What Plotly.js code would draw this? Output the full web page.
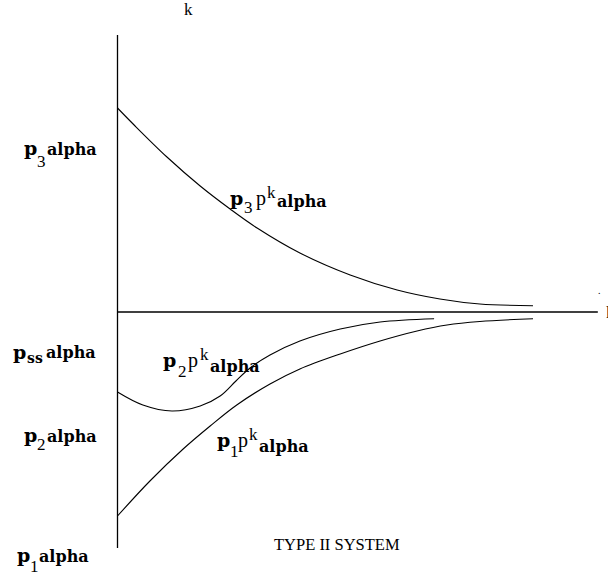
<!DOCTYPE html>
<html>
<head>
<meta charset="utf-8">
<script src="https://cdn.plot.ly/plotly-3.0.1.min.js"></script>
<style>html,body{margin:0;padding:0;background:#fff;}#chart{width:608px;height:577px;}</style>
</head>
<body>
<div id="chart"></div>
<script>
// Series values (k along the horizontal axis, response on the vertical axis)
var p3K = [0, 0.40, 1.19, 1.99, 2.71, 3.36, 4.39, 5.60, 6.73, 7.76, 8.72, 10.0];
var p3V = [2.04, 1.87, 1.55, 1.26, 1.03, 0.84, 0.59, 0.37, 0.22, 0.13, 0.08, 0.063];

var p2K = [0, 0.61, 1.31, 1.99, 2.47, 2.85, 3.19, 3.67, 4.39, 5.36, 6.32, 7.62];
var p2V = [-0.80, -0.93, -0.99, -0.94, -0.84, -0.69, -0.56, -0.43, -0.29, -0.17, -0.10, -0.067];

var p1K = [0, 0.78, 1.58, 2.23, 2.87, 3.67, 4.39, 5.36, 6.32, 7.21, 7.93, 8.72, 10.0];
var p1V = [-2.04, -1.69, -1.37, -1.14, -0.93, -0.72, -0.57, -0.42, -0.29, -0.19, -0.13, -0.095, -0.067];

// Axis extents
var vAxisK = [0, 0];
var vAxisV = [2.77, -2.36];
var hAxisK = [0, 11.56];
var hAxisV = [0, 0];

// Label texts
var subDigits = ['3', '2', '1'];
var ssText = 'ss';
var alphaText = 'alpha';
var titleText = 'TYPE II SYSTEM';
var kText = 'k';

var W = 608, H = 577;
function px(x) { return x / W; }
function py(y) { return 1 - y / H; }

var STY = {
  bp:  {family: 'DejaVu Serif', size: 19, weight: 'bold', color: '#000'},
  bs:  {family: 'DejaVu Serif', size: 14, weight: 'bold', color: '#000'},
  ba:  {family: 'DejaVu Serif', size: 16, weight: 'bold', color: '#000'},
  dg:  {family: 'Liberation Serif', size: 17, color: '#000'},
  rp:  {family: 'Liberation Serif', size: 20, color: '#000'},
  rk:  {family: 'Liberation Serif', size: 17, color: '#000'},
  ttl: {family: 'Liberation Serif', size: 16.5, color: '#000'},
  dot: {family: 'Liberation Serif', size: 10, color: '#000'}
};

function ann(text, x, y, st, anchor) {
  return {text: text, xref: 'paper', yref: 'paper', x: px(x), y: py(y),
          xanchor: anchor || 'left', yanchor: 'middle', showarrow: false,
          borderpad: 0, font: STY[st]};
}

var anns = [
  // left labels
  ann('p', 23, 148.4, 'bp'), ann(subDigits[0], 36, 161.2, 'dg'), ann(alphaText, 46, 149.4, 'ba'),
  ann('p', 12, 352.4, 'bp'), ann(ssText, 26, 358.1, 'bs'), ann(alphaText, 45, 352.4, 'ba'),
  ann('p', 23, 435.4, 'bp'), ann(subDigits[1], 36, 444.2, 'dg'), ann(alphaText, 46, 436.4, 'ba'),
  ann('p', 16, 555.4, 'bp'), ann(subDigits[2], 28.5, 566.5, 'dg'), ann(alphaText, 38, 556.4, 'ba'),
  // curve labels
  ann('p', 229, 198.4, 'bp'), ann(subDigits[0], 243, 207.2, 'dg'), ann('p', 255, 198.2, 'rp'),
  ann(kText, 266, 192.2, 'rk'), ann(alphaText, 276, 201.4, 'ba'),
  ann('p', 162, 360.4, 'bp'), ann(subDigits[1], 177, 371.2, 'dg'), ann('p', 187, 360.2, 'rp'),
  ann(kText, 199, 354.2, 'rk'), ann(alphaText, 209, 366.4, 'ba'),
  ann('p', 216, 440.4, 'bp'), ann(subDigits[2], 229, 451.2, 'dg'), ann('p', 237, 440.2, 'rp'),
  ann(kText, 248, 434.2, 'rk'), ann(alphaText, 258, 446.4, 'ba'),
  // other texts
  ann(titleText, 337, 544.4, 'ttl', 'center'),
  ann(kText, 188, 9.2, 'rk', 'center'),
  ann(kText, 605, 312.2, 'rk'),
  ann('.', 599, 290, 'dot', 'center')
];

var lineStyle = {color: '#000', width: 1.1, shape: 'spline', smoothing: 1};
var traces = [
  {x: vAxisK, y: vAxisV, mode: 'lines', line: {color: '#000', width: 1.3}, hoverinfo: 'skip'},
  {x: hAxisK, y: hAxisV, mode: 'lines', line: {color: '#000', width: 1.3}, hoverinfo: 'skip'},
  {x: p3K, y: p3V, mode: 'lines', line: lineStyle, name: 'p3'},
  {x: p2K, y: p2V, mode: 'lines', line: lineStyle, name: 'p2'},
  {x: p1K, y: p1V, mode: 'lines', line: lineStyle, name: 'p1'}
];

var layout = {
  width: W, height: H,
  margin: {l: 0, r: 0, t: 0, b: 0},
  paper_bgcolor: '#fff', plot_bgcolor: '#fff',
  showlegend: false,
  xaxis: {range: [-117.5 / 41.55, (608 - 117.5) / 41.55], visible: false, fixedrange: true},
  yaxis: {range: [(312 - 577) / 100, 3.12], visible: false, fixedrange: true},
  annotations: anns
};

Plotly.newPlot('chart', traces, layout, {displayModeBar: false, staticPlot: true});
</script>
</body>
</html>
